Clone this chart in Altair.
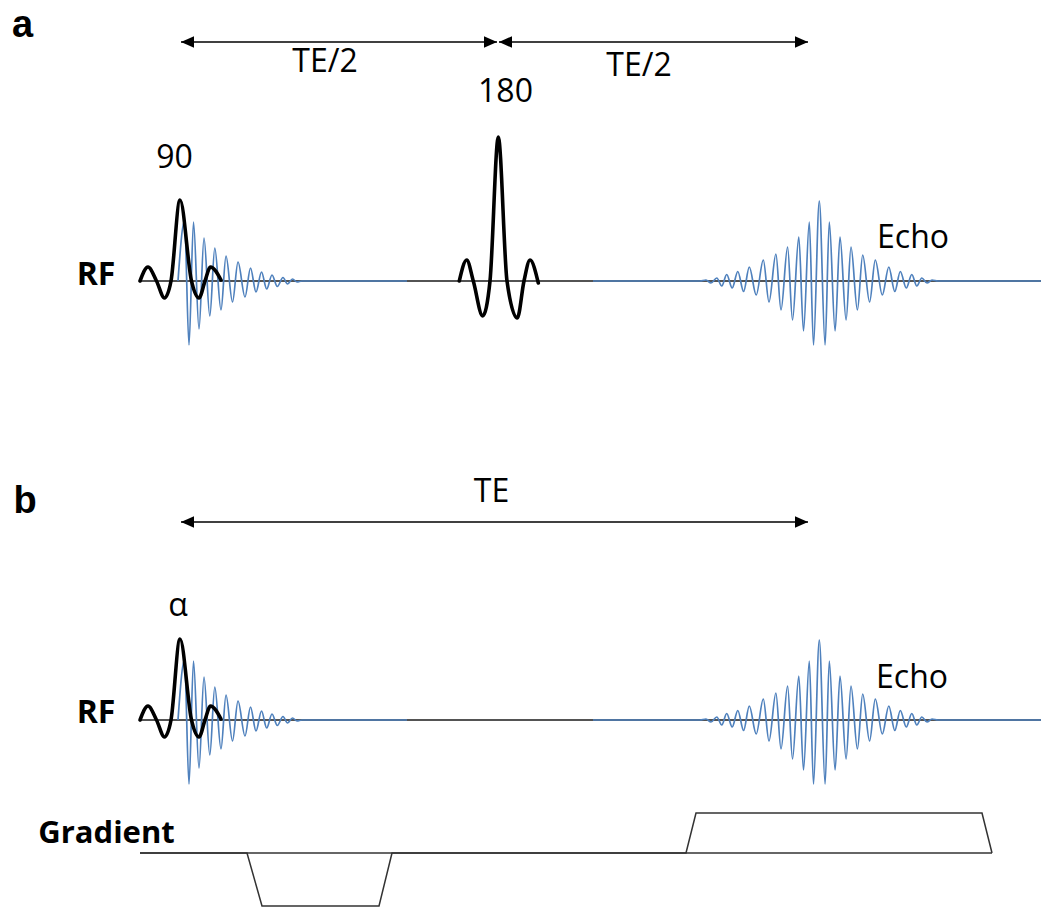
import altair as alt
import pandas as pd

W, H = 1041, 907

# ---- row positions of the diagram (diagram units, measured from the top) ----
RF_A = 281        # RF baseline, panel a
RF_B = 720        # RF baseline, panel b
GRAD = 853        # gradient baseline, panel b
ARROW_A = 42
ARROW_B = 522
LINE_START = 140
LINE_END = 1041

# ---- excitation pulse (90 / alpha): time, amplitude ----
EXC_T = [140, 148, 156.5, 164.5, 171, 180, 191.5, 199, 205, 210.5, 221]
EXC_A = [0, 14, 0, -17, 0, 81, 0, -17, 0, 14, 1]

# ---- refocusing pulse (180) ----
REF_T = [459.3, 466.7, 473.3, 482.7, 490, 498.3, 507, 517.3, 524, 530, 538.3]
REF_A = [0, 21, 0, -35, 0, 144, 0, -37, 0, 21, -2]

# ---- free induction decay (blue) ----
FID_T = [178, 184.5, 189, 193.5, 199, 204, 209.8, 214.8, 221, 226, 232.5,
         238, 245, 250.5, 256, 261.5, 266.7, 272, 277.3, 283, 287.5, 292.5,
         297, 302, 407]
FID_A = [0, 60, -64, 59, -48, 43, -35, 33, -29, 25, -21,
         19, -16, 13, -11, 9, -8, 6, -5.5, 3.5, -3, 2,
         -1, 0, 0]

# ---- echo (blue) ----
ECHO_T = [593, 700, 706, 711, 716.8, 721.8, 726.7, 732.2, 737.8, 743.6, 749.3, 756.2,
          763.3, 769, 775.9, 781, 787.6, 792.5, 798.8, 803.5, 809.3, 813.5, 819.3,
          825.1, 829.3, 835.1, 840, 846.1, 851, 857.4, 862.7, 869.6, 875.3, 882.3,
          888.8, 894.8, 900.3, 906.3, 911.8, 916.8, 921.8, 927, 932, 938, 1041]
ECHO_A = [0, 0, 1, -2, 3, -5, 6.5, -7, 9.5, -10.5, 14, -14,
          21, -21, 27, -29, 34, -39, 44, -50, 59, -64, 80,
          -64, 59, -50, 44, -39, 34, -29, 26, -21, 21, -14,
          14, -10.5, 9.5, -7, 6.5, -5, 3, -2, 1, 0, 0]

# ---- gradient waveform (panel b) ----
GRAD_T = [140, 247, 262, 379, 392, 686, 696, 982, 992]
GRAD_A = [0, 0, -53, -53, 0, 0, 40, 40, 0]

# ---- timing arrows: start, end, row ----
ARROW_START = [181, 499, 181]
ARROW_END = [497, 808, 808]
ARROW_ROW = [ARROW_A, ARROW_A, ARROW_B]

# ---- labels ----
LABEL_TEXT = ["TE/2", "TE/2", "180", "90", "Echo", "TE", "α", "Echo"]
LABEL_X = [325, 639, 505.5, 174.5, 913, 491.5, 178, 912]
LABEL_Y = [72, 76, 102, 168, 248, 502, 616, 688]
BOLD_TEXT = ["RF", "RF", "Gradient"]
BOLD_X = [96, 96, 106.5]
BOLD_Y = [285, 723, 843]
BOLD_SIZE = [32, 32, 31]
PANEL_TEXT = ["a", "b"]
PANEL_X = [22.5, 25]
PANEL_Y = [37, 513]

BLUE = "#4f81bd"

xs = alt.Scale(domain=[0, W], nice=False, zero=False)
ys = alt.Scale(domain=[0, H], reverse=True, nice=False, zero=False)


def trace(ts, amps, base, name):
    return pd.DataFrame({"t": ts, "row": [base - a for a in amps],
                         "trace": name, "i": list(range(len(ts)))})


def line_layer(df, **kw):
    return alt.Chart(df).mark_line(**kw).encode(
        x=alt.X("t:Q", scale=xs, axis=None),
        y=alt.Y("row:Q", scale=ys, axis=None),
        detail="trace:N",
        order="i:Q",
    )


baselines = pd.DataFrame({"x": [LINE_START, LINE_START], "x2": [LINE_END, LINE_END],
                          "y": [RF_A, RF_B]})
base_layer = alt.Chart(baselines).mark_rule(color="#1a1a1a", strokeWidth=1.6).encode(
    x=alt.X("x:Q", scale=xs, axis=None), x2="x2:Q",
    y=alt.Y("y:Q", scale=ys, axis=None))

grad_base = pd.DataFrame({"x": [GRAD_T[0]], "x2": [GRAD_T[-1]], "y": [GRAD]})
grad_base_layer = alt.Chart(grad_base).mark_rule(color="#333333", strokeWidth=1.5).encode(
    x=alt.X("x:Q", scale=xs, axis=None), x2="x2:Q",
    y=alt.Y("y:Q", scale=ys, axis=None))
grad_layer = line_layer(trace(GRAD_T, GRAD_A, GRAD, "grad"),
                        color="#333333", strokeWidth=1.5)

blue_df = pd.concat([
    trace(FID_T, FID_A, RF_A, "fidA"),
    trace(ECHO_T, ECHO_A, RF_A, "echoA"),
    trace(FID_T, FID_A, RF_B, "fidB"),
    trace(ECHO_T, ECHO_A, RF_B, "echoB"),
])
blue_layer = line_layer(blue_df, interpolate="monotone", color=BLUE, strokeWidth=1.7)

black_df = pd.concat([
    trace(EXC_T, EXC_A, RF_A, "exA"),
    trace(REF_T, REF_A, RF_A, "refA"),
    trace(EXC_T, EXC_A, RF_B, "exB"),
])
black_layer = line_layer(black_df, interpolate="monotone", color="#000000",
                         strokeWidth=3.6, strokeCap="round", strokeJoin="round")

arrows = pd.DataFrame({"x": ARROW_START, "x2": ARROW_END, "y": ARROW_ROW})
shaft_layer = alt.Chart(arrows).mark_rule(color="#404040", strokeWidth=2).encode(
    x=alt.X("x:Q", scale=xs, axis=None), x2="x2:Q",
    y=alt.Y("y:Q", scale=ys, axis=None))
left_heads = alt.Chart(arrows).mark_point(
    shape="M-1,0L1,-0.9L1,0.9Z", filled=True, size=169, color="#000000",
    opacity=1, strokeWidth=0, xOffset=6.5).encode(
    x=alt.X("x:Q", scale=xs, axis=None), y=alt.Y("y:Q", scale=ys, axis=None))
right_heads = alt.Chart(arrows).mark_point(
    shape="M1,0L-1,-0.9L-1,0.9Z", filled=True, size=169, color="#000000",
    opacity=1, strokeWidth=0, xOffset=-6.5).encode(
    x=alt.X("x2:Q", scale=xs, axis=None), y=alt.Y("y:Q", scale=ys, axis=None))

labels = pd.DataFrame({"x": LABEL_X, "y": LABEL_Y, "text": LABEL_TEXT})
label_layer = alt.Chart(labels).mark_text(
    font="Open Sans", fontSize=32, color="#000000", align="center",
    baseline="alphabetic").encode(
    x=alt.X("x:Q", scale=xs, axis=None), y=alt.Y("y:Q", scale=ys, axis=None),
    text="text:N")

bold = pd.DataFrame({"x": BOLD_X, "y": BOLD_Y, "text": BOLD_TEXT, "size": BOLD_SIZE})
bold_layer = alt.Chart(bold).mark_text(
    font="Open Sans", fontWeight="bold", color="#000000",
    align="center", baseline="alphabetic").encode(
    x=alt.X("x:Q", scale=xs, axis=None), y=alt.Y("y:Q", scale=ys, axis=None),
    text="text:N", size=alt.Size("size:Q", scale=None, legend=None))

panel = pd.DataFrame({"x": PANEL_X, "y": PANEL_Y, "text": PANEL_TEXT})
panel_layer = alt.Chart(panel).mark_text(
    font="Liberation Sans", fontSize=38, fontWeight="bold", color="#000000",
    align="center", baseline="alphabetic").encode(
    x=alt.X("x:Q", scale=xs, axis=None), y=alt.Y("y:Q", scale=ys, axis=None),
    text="text:N")

chart = alt.layer(
    base_layer, grad_base_layer, grad_layer, blue_layer, black_layer,
    shaft_layer, left_heads, right_heads, label_layer, bold_layer, panel_layer,
).properties(
    width=W, height=H, padding=0, autosize="none", background="white",
).configure_view(stroke=None)

chart.save("out.html", embed_options={"renderer": "svg", "actions": False})
